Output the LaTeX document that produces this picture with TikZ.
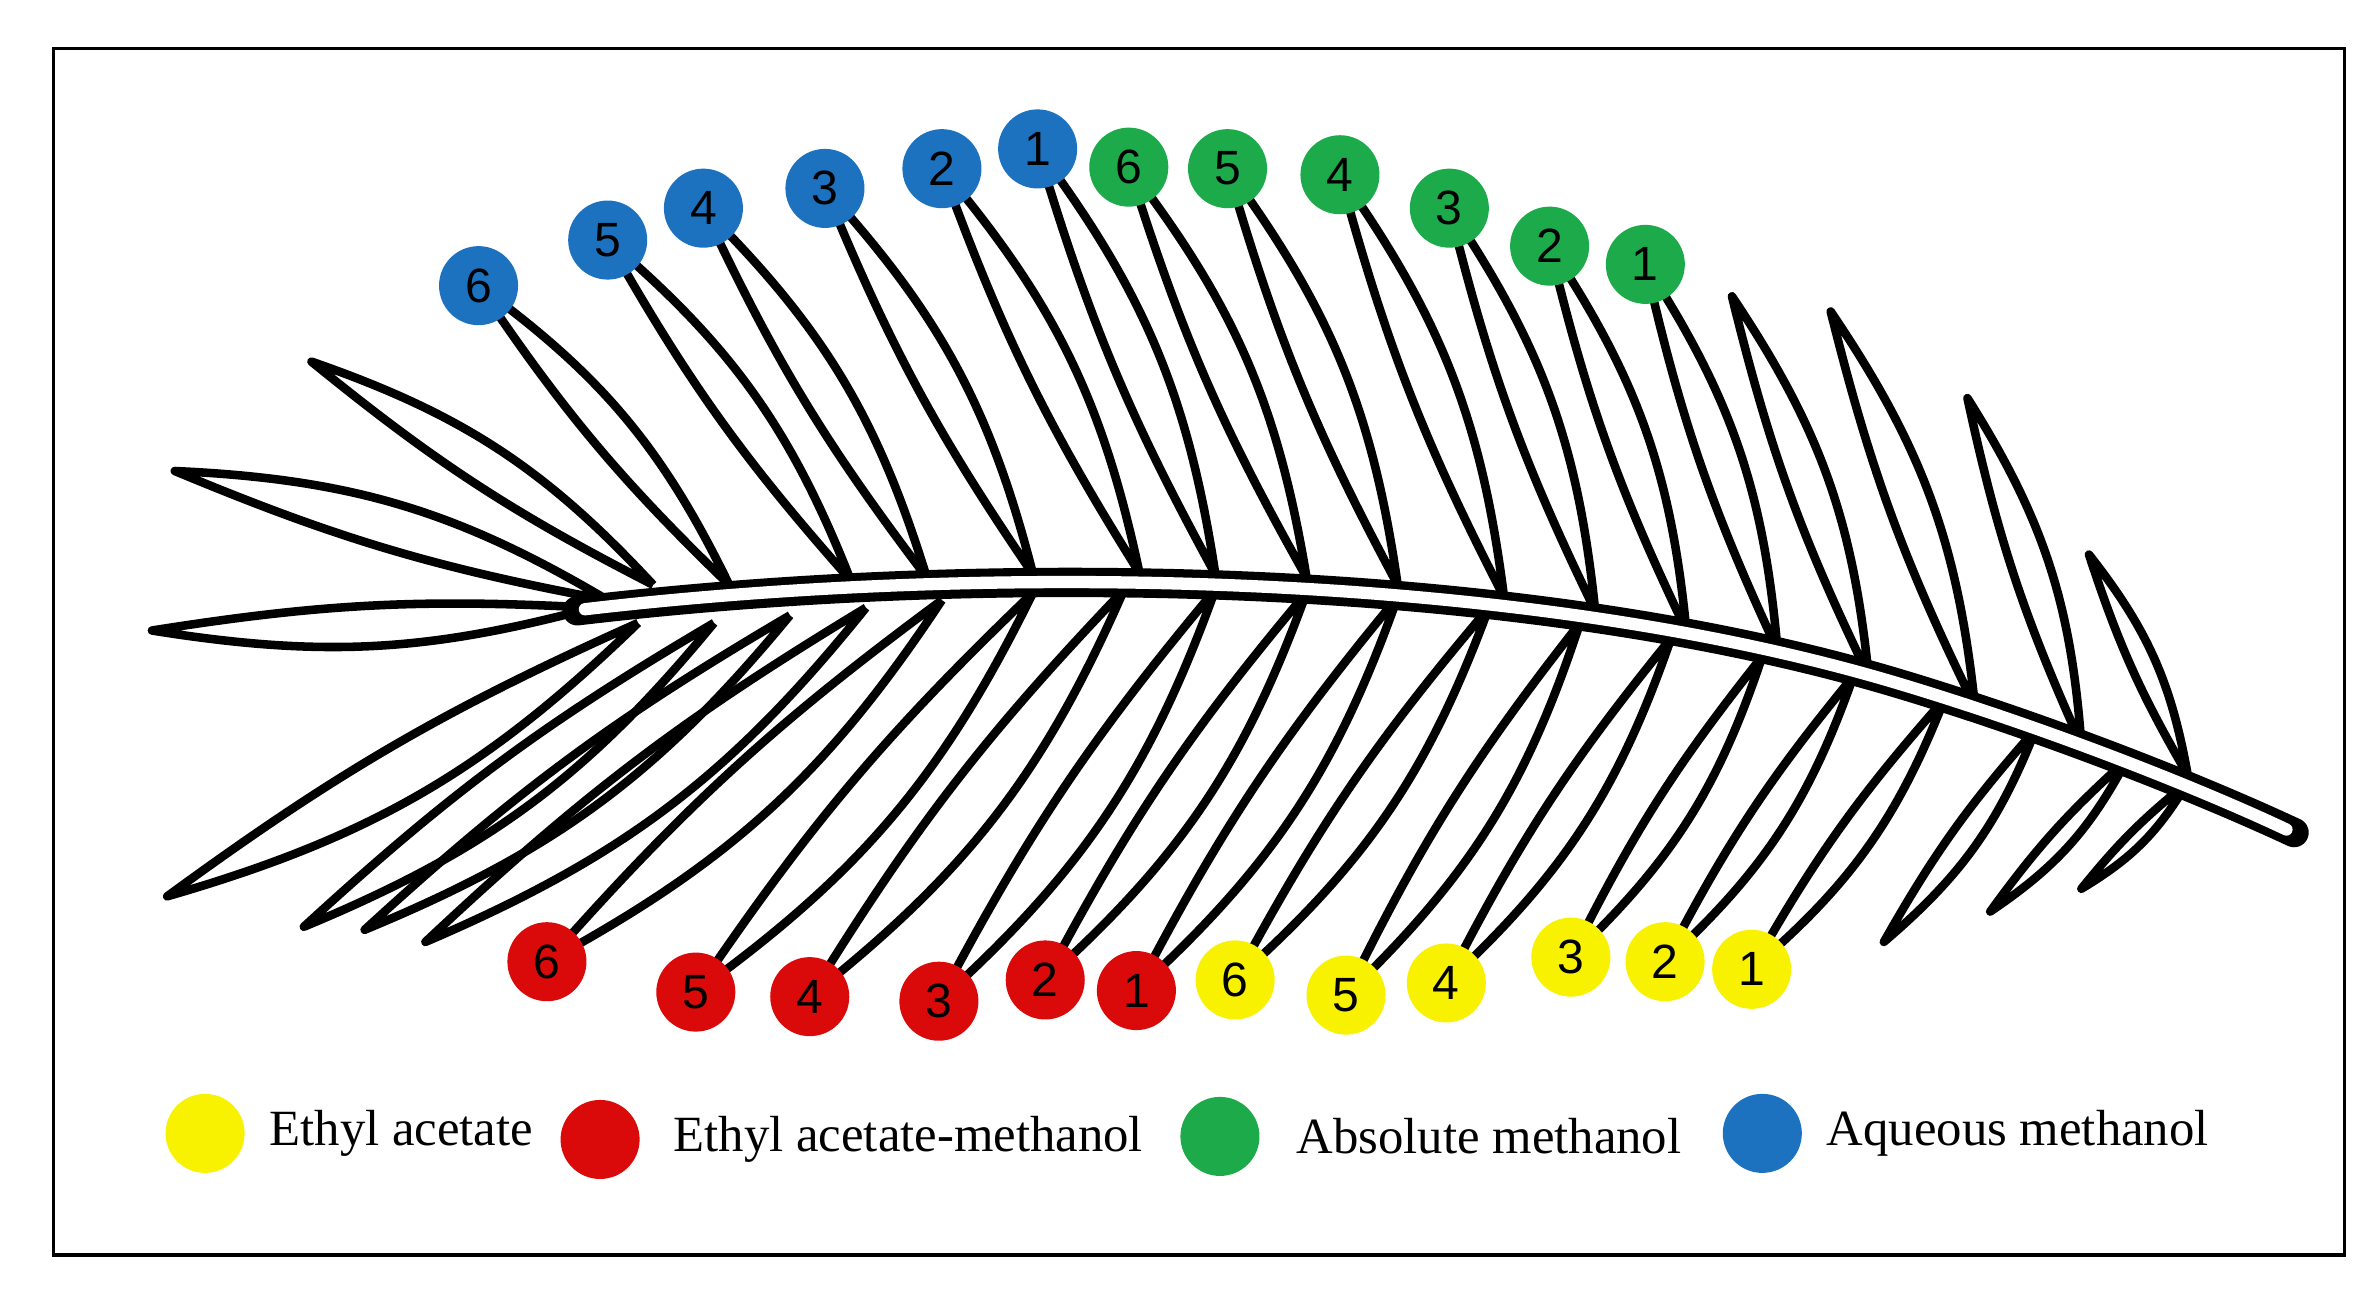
\documentclass[tikz,border=0pt]{standalone}
\usepackage{fontspec}
\setmainfont{Liberation Serif}
\newfontfamily\numfont{Liberation Sans}
\definecolor{cy}{HTML}{F8F200}
\definecolor{cr}{HTML}{DA0A0A}
\definecolor{cg}{HTML}{1DAA4A}
\definecolor{cb}{HTML}{1C72BE}
\tikzset{
 dot/.style={circle,minimum size=0.52cm,inner sep=0pt,font=\numfont\fontsize{9}{9}\selectfont},
 leaf/.style={line width=1.6pt,line join=round},
 legtext/.style={anchor=west,font=\fontsize{9.5}{10}\selectfont}
}
\newcommand{\lflt}[4]{\draw[leaf] (#1,#2) to[bend left=6] (#3,#4) to[bend left=14] (#1,#2);}
\newcommand{\lfltb}[4]{\draw[leaf] (#1,#2) to[bend right=6] (#3,#4) to[bend right=14] (#1,#2);}
\begin{document}
\begin{tikzpicture}[x=0.01cm,y=-0.01cm]
\useasboundingbox (0,0) rectangle (1560,853);
\fill[white] (0,0) rectangle (1560,853);
\draw[line width=0.6pt] (35,32) rectangle (1543,826);
% upper leaflets
\foreach \tx/\ty/\bx/\by in {315/188/480/385,400/158/560/382,463/137/610/380,543/124/680/378,620/111/750/377,683/98/800/378,743/110/860/380,808/111/920/385,882/115/990/393,954/137/1050/402,1020/162/1110/415,1083/174/1170/428,1140/195/1230/445,1205/205/1300/465,1295/262/1370/490,1375/365/1440/510,205/238/430/385,115/310/400/395}
 {\lflt{\bx}{\by}{\tx}{\ty}}
\draw[leaf] (390,400) to[bend right=6] (100,415) to[bend right=12] (390,400);
% lower leaflets
\foreach \tx/\ty/\bx/\by in {110/590/420/410,200/610/470/410,240/612/520/405,280/620/570/400,360/633/620/395,458/653/680/390,533/656/740/388,618/659/800/388,688/645/860/390,748/652/920/393,813/645/980/400,886/655/1040/410,952/647/1100/420,1034/630/1160/432,1096/633/1220/445,1153/638/1280/460,1240/620/1340/480,1310/600/1400/500,1370/585/1440/515}
 {\lfltb{\bx}{\by}{\tx}{\ty}}
% rachis
\draw[line width=5.5pt,line cap=round] (380,402) .. controls (650,370) and (1000,375) .. (1250,450) .. controls (1350,480) and (1450,520) .. (1510,548);
\draw[white,line width=2.3pt,line cap=round] (385,401) .. controls (650,370) and (1000,375) .. (1250,450) .. controls (1350,480) and (1450,520) .. (1505,546);
% blue
\foreach \n/\x/\y in {6/315/188,5/400/158,4/463/137,3/543/124,2/620/111,1/683/98}
 {\node[dot,fill=cb] (b\n) at (\x,\y) {\n};}
\foreach \n/\x/\y in {6/743/110,5/808/111,4/882/115,3/954/137,2/1020/162,1/1083/174}
 {\node[dot,fill=cg] (g\n) at (\x,\y) {\n};}
\foreach \n/\x/\y in {6/360/633,5/458/653,4/533/656,3/618/659,2/688/645,1/748/652}
 {\node[dot,fill=cr] (r\n) at (\x,\y) {\n};}
\foreach \n/\x/\y in {6/813/645,5/886/655,4/952/647,3/1034/630,2/1096/633,1/1153/638}
 {\node[dot,fill=cy] (y\n) at (\x,\y) {\n};}
% legend
\node[dot,fill=cy] (ly) at (135,746) {};
\node[legtext] (lty) at (165,746) {Ethyl acetate};
\node[dot,fill=cr] (lr) at (395,750) {};
\node[legtext] (ltr) at (431,750) {Ethyl acetate-methanol};
\node[dot,fill=cg] (lg) at (803,748) {};
\node[legtext] (ltg) at (841,748) {Absolute methanol};
\node[dot,fill=cb] (lb) at (1160,746) {};
\node[legtext] (ltb) at (1190,746) {Aqueous methanol};
\end{tikzpicture}
\end{document}
